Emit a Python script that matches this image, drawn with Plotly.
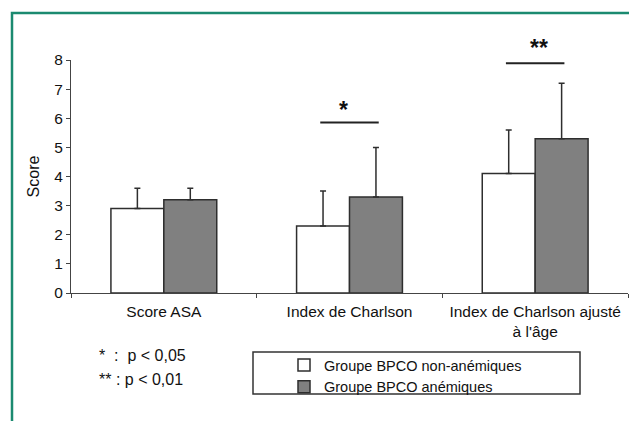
import plotly.graph_objects as go

categories = ["Score ASA", "Index de Charlson", "Index de Charlson ajusté<br>à l'âge"]
non_anemic = [2.9, 2.3, 4.1]
non_anemic_sd = [0.7, 1.2, 1.5]
anemic = [3.2, 3.3, 5.3]
anemic_sd = [0.4, 1.7, 1.9]
series_names = ["Groupe BPCO non-anémiques", "Groupe BPCO anémiques"]
y_ticks = [0, 1, 2, 3, 4, 5, 6, 7, 8]
signif_labels = ["", "*", "**"]
signif_line_y = [None, 5.85, 7.89]
signif_text_px = [None, 110, 48]

# page body has an 8px default margin, so work in window pixels and offset
OFF = 8
W, H = 637 - OFF, 421 - OFF
L, R, T, B = 71 - OFF, 9, 60 - OFF, 421 - 293
pw, ph = W - L - R, H - T - B

def px_x(p):
    return (p - OFF - L) / pw

def px_y(p):
    return (H - B - (p - OFF)) / ph

FONT = "Liberation Sans, Arial, sans-serif"
EDGE = "#2e2e2e"

fig = go.Figure()
fig.add_trace(go.Bar(
    x=categories, y=non_anemic, name=series_names[0],
    marker=dict(color="white", line=dict(color=EDGE, width=1.5)),
    error_y=dict(type="data", array=non_anemic_sd, arrayminus=[0] * 3, symmetric=False,
                 color=EDGE, thickness=1.5, width=3),
))
fig.add_trace(go.Bar(
    x=categories, y=anemic, name=series_names[1],
    marker=dict(color="#808080", line=dict(color=EDGE, width=1.5)),
    error_y=dict(type="data", array=anemic_sd, arrayminus=[0] * 3, symmetric=False,
                 color=EDGE, thickness=1.5, width=3),
))

shapes = []
annotations = []
half = 0.1425
for i, lab in enumerate(signif_labels):
    if not lab:
        continue
    shapes.append(dict(type="line", xref="x", yref="y", x0=i - half - 0.015, x1=i + half + 0.015,
                       y0=signif_line_y[i], y1=signif_line_y[i], line=dict(color="#222", width=2)))
    annotations.append(dict(x=i - 0.035 if lab == "*" else i + 0.02, y=px_y(signif_text_px[i]),
                            xref="x", yref="paper", xanchor="center", yanchor="middle",
                            text="<b>" + lab + "</b>", showarrow=False,
                            font=dict(family=FONT, size=23, color="#111")))

# green frame
shapes.append(dict(type="rect", xref="paper", yref="paper",
                   x0=px_x(12), x1=px_x(660), y0=px_y(440), y1=px_y(13),
                   line=dict(color="#1b8a70", width=2.5), layer="above"))
# legend box
shapes.append(dict(type="rect", xref="paper", yref="paper",
                   x0=px_x(253), x1=px_x(580), y0=px_y(394), y1=px_y(352),
                   line=dict(color="#333", width=1.5)))

annotations.append(dict(x=px_x(97), y=px_y(355), xref="paper", yref="paper",
                        xanchor="left", yanchor="middle",
                        text="*  :  p &lt; 0,05", showarrow=False,
                        font=dict(family=FONT, size=16, color="#111")))
annotations.append(dict(x=px_x(97), y=px_y(379), xref="paper", yref="paper",
                        xanchor="left", yanchor="middle",
                        text="** : p &lt; 0,01", showarrow=False,
                        font=dict(family=FONT, size=16, color="#111")))

fig.update_layout(
    width=W, height=H,
    margin=dict(l=L, r=R, t=T, b=B),
    paper_bgcolor="white", plot_bgcolor="white",
    barmode="group", bargap=0.43, bargroupgap=0,
    font=dict(family=FONT, size=14, color="#111"),
    showlegend=True,
    legend=dict(x=px_x(284), y=px_y(349), xanchor="left", yanchor="top",
                bgcolor="rgba(0,0,0,0)", borderwidth=0, itemwidth=30,
                font=dict(family=FONT, size=14.5, color="#111"), tracegroupgap=0),
    shapes=shapes,
    annotations=annotations,
)
fig.update_xaxes(showline=True, linecolor="#444", linewidth=1, ticks="outside", ticklen=4,
                 tickcolor="#444", tickson="boundaries", showgrid=False, ticklabelstandoff=4,
                 tickfont=dict(family=FONT, size=15.5, color="#111"))
fig.update_yaxes(range=[0, 8], tickvals=y_ticks, showline=True, linecolor="#444", linewidth=1,
                 ticks="outside", ticklen=4, tickcolor="#444", showgrid=False, zeroline=False,
                 tickfont=dict(family=FONT, size=15.5, color="#111"),
                 title=dict(text="Score", font=dict(family=FONT, size=16, color="#111"), standoff=10))

fig.write_html("out.html")
